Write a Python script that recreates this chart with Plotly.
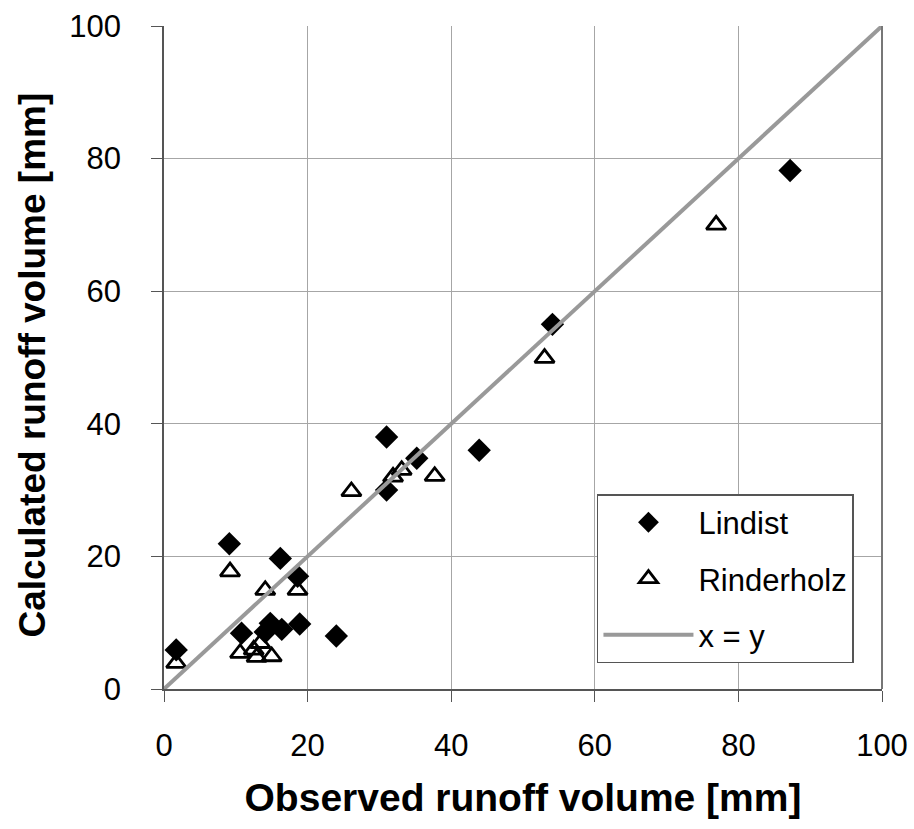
import plotly.graph_objects as go

lindist_x = [1.7, 9.1, 10.8, 14.1, 14.8, 16.2, 16.4, 18.6, 18.9, 24.0, 31.0, 31.0, 35.2, 43.9, 54.1, 87.2]
lindist_y = [5.9, 21.9, 8.4, 8.6, 9.9, 19.7, 9.0, 17.0, 9.8, 8.0, 38.0, 30.0, 34.8, 36.0, 55.0, 78.2]

rinder_x = [1.7, 9.2, 10.6, 12.5, 13.4, 12.9, 15.0, 14.1, 18.6, 26.1, 31.9, 33.1, 37.7, 53.0, 76.9]
rinder_y = [3.9, 17.7, 5.4, 5.9, 6.9, 4.8, 4.9, 14.9, 14.9, 29.8, 32.0, 33.0, 32.1, 49.9, 70.0]

line_xy = [0, 100]

font = "Liberation Sans, Arial, sans-serif"

fig = go.Figure()
fig.add_trace(go.Scatter(x=lindist_x, y=lindist_y, mode="markers", name="Lindist",
                         legendgroup="a",
                         marker=dict(symbol="diamond", size=18, color="black",
                                     line=dict(width=0))))
fig.add_trace(go.Scatter(x=rinder_x, y=rinder_y, mode="markers", name="Rinderholz",
                         legendgroup="b",
                         marker=dict(symbol="triangle-up-open", size=17, color="black",
                                     line=dict(width=2.8, color="black"))))
fig.add_trace(go.Scatter(x=line_xy, y=line_xy, mode="lines", name="x = y",
                         legendgroup="c",
                         line=dict(color="#999999", width=4)))

axis_common = dict(range=[0, 100], dtick=20, showgrid=True, gridcolor="#a6a6a6", gridwidth=1,
                   showline=True, linecolor="#555555", linewidth=1.5, mirror=False,
                   ticks="outside", ticklen=11, tickcolor="#555555",
                   tickfont=dict(family=font, size=31, color="black"),
                   ticklabeloverflow="allow",
                   zeroline=False, fixedrange=True, automargin=False)

fig.update_layout(
    width=914, height=829,
    margin=dict(l=164, r=32, t=26, b=140),
    paper_bgcolor="white", plot_bgcolor="white",
    showlegend=True,
    legend=dict(x=0.603, y=0.294, xanchor="left", yanchor="top",
                bgcolor="white", bordercolor="#555555", borderwidth=1.5,
                font=dict(family=font, size=31, color="black"),
                itemwidth=90, tracegroupgap=13, traceorder="grouped"),
    xaxis=dict(**axis_common, ticklabelstandoff=17,
               title=dict(text="<b>Observed runoff volume [mm]</b>", standoff=22,
                          font=dict(family=font, size=39, color="black"))),
    yaxis=dict(**axis_common, ticklabelstandoff=24),
)
fig.add_annotation(text="<b>Calculated runoff volume [mm]</b>", textangle=-90,
                   xref="paper", yref="paper", x=0, y=0.5, xanchor="center", yanchor="middle",
                   xshift=-132, yshift=-8, showarrow=False,
                   font=dict(family=font, size=37, color="black"))
fig.add_shape(type="line", xref="paper", yref="paper", x0=1, x1=1, y0=0, y1=1,
              line=dict(color="#777777", width=2))

fig.write_html("out.html", config={"displayModeBar": False},
               post_script="document.body.style.margin='0';document.body.style.overflow='hidden';")
